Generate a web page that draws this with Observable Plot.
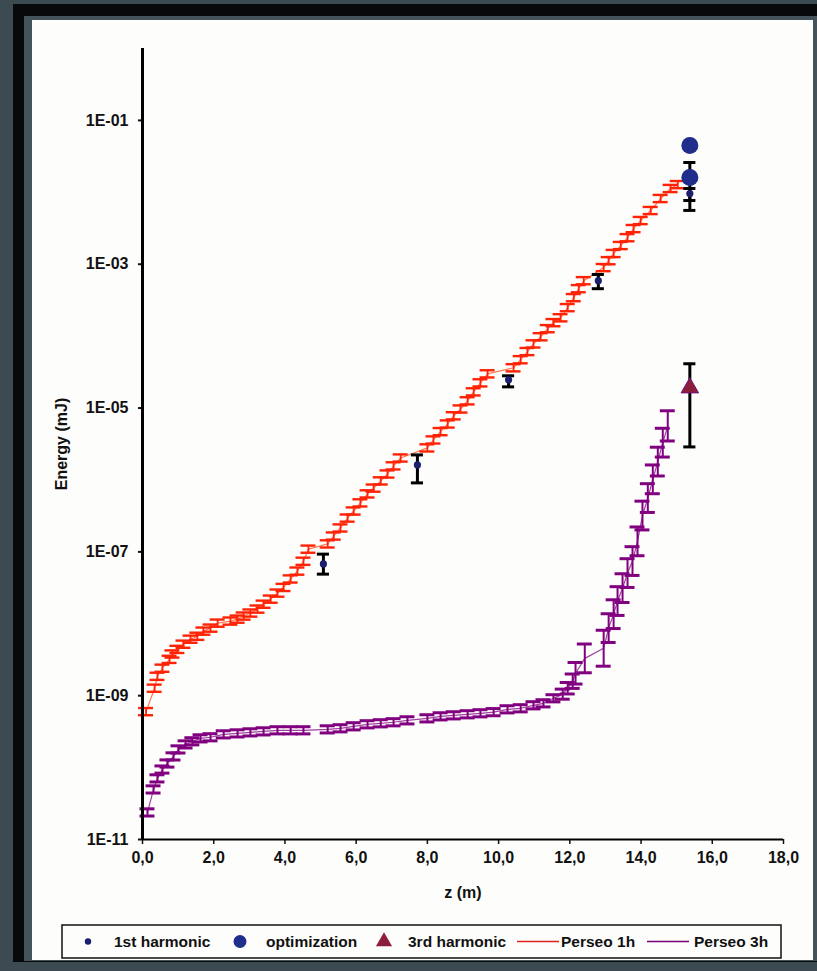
<!DOCTYPE html>
<html>
<head>
<meta charset="utf-8">
<script src="https://cdn.jsdelivr.net/npm/d3@7"></script>
<script src="https://cdn.jsdelivr.net/npm/@observablehq/plot@0.6"></script>
<style>
  html, body { margin: 0; padding: 0; }
  body { width: 817px; height: 971px; background: #3c4a51; position: relative; overflow: hidden;
         font-family: "Liberation Sans", Arial, sans-serif; }
  #frame { position: absolute; left: 13px; top: 4px; width: 804px; height: 958px; background: #07090a; }
  #inner { position: absolute; left: 24px; top: 16px; width: 793px; height: 945px; background: #45535a; }
  #panel { position: absolute; left: 32px; top: 20px; width: 781px; height: 940px; background: #fdfdfb; }
  #chart { position: absolute; left: 0; top: 0; }
  #legend { position: absolute; left: -32px; top: 890px; }
</style>
</head>
<body>
<div id="frame"></div>
<div id="inner"></div>
<div id="panel"><div id="chart"></div><div id="legend"></div></div>
<script>
// ---------- data ----------
const xTicks = [0, 2, 4, 6, 8, 10, 12, 14, 16, 18];
const yTicks = [1e-1, 1e-3, 1e-5, 1e-7, 1e-9, 1e-11];
const legendLabels = ["1st harmonic", "optimization", "3rd harmonic", "Perseo 1h", "Perseo 3h"];

// Perseo 1h simulation (z in m, energy in mJ)
const perseo1hZ = [0.10,0.34,0.42,0.56,0.76,0.84,0.98,1.15,1.35,1.54,1.71,1.91,2.11,2.47,2.67,2.84,3.03,3.23,3.40,3.60,
  3.79,3.96,4.16,4.35,4.52,4.66,5.20,5.37,5.56,5.76,5.93,6.12,6.32,6.49,6.69,6.88,7.05,7.25,8.00,8.17,
  8.37,8.57,8.74,8.93,9.13,9.30,9.49,9.69,10.42,10.62,10.81,10.98,11.18,11.38,11.54,11.74,11.94,12.11,12.25,12.39,
  12.95,13.09,13.23,13.43,13.62,13.79,13.99,14.27,14.55,14.83,15.03];
const perseo1hE = [6.0e-10,1.27e-9,1.86e-9,2.41e-9,3.2e-9,3.8e-9,4.4e-9,5.2e-9,6.1e-9,6.7e-9,7.9e-9,8.7e-9,1.02e-8,1.09e-8,1.16e-8,1.28e-8,1.41e-8,1.60e-8,1.87e-8,2.2e-8,
  2.67e-8,3.2e-8,4.2e-8,5.4e-8,7.4e-8,1.09e-7,1.29e-7,1.66e-7,2.15e-7,2.95e-7,3.7e-7,4.8e-7,6.4e-7,7.7e-7,9.7e-7,1.21e-6,1.57e-6,2.02e-6,2.79e-6,3.6e-6,
  4.7e-6,6.0e-6,7.8e-6,9.7e-6,1.26e-5,1.68e-5,2.24e-5,2.99e-5,3.63e-5,4.7e-5,6.1e-5,7.8e-5,9.8e-5,1.27e-4,1.54e-4,1.80e-4,2.49e-4,3.43e-4,4.57e-4,5.9e-4,
  8.97e-4,1.12e-3,1.41e-3,1.82e-3,2.34e-3,3.13e-3,4.05e-3,5.58e-3,8.2e-3,1.13e-2,1.28e-2];
const perseo1hErrDex = 0.05; // half-height of the error bars, in decades

// Perseo 3h simulation
const perseo3hZ = [0.14,0.31,0.42,0.56,0.70,0.87,1.01,1.21,1.40,1.63,1.91,2.28,2.67,3.03,3.40,3.79,4.16,4.52,5.20,5.56,
  5.93,6.32,6.69,7.05,7.44,8.00,8.37,8.74,9.13,9.49,9.86,10.25,10.62,10.98,11.26,11.54,11.80,11.94,12.08,12.16,
  12.42,12.95,13.09,13.23,13.34,13.48,13.62,13.76,13.90,14.04,14.19,14.33,14.47,14.61,14.75];
const perseo3hE = [2.38e-11,4.97e-11,7.08e-11,9.4e-11,1.14e-10,1.43e-10,1.79e-10,2.10e-10,2.32e-10,2.55e-10,2.64e-10,2.90e-10,2.99e-10,3.09e-10,3.19e-10,3.30e-10,3.30e-10,3.30e-10,3.40e-10,3.52e-10,
  3.75e-10,4.0e-10,4.13e-10,4.27e-10,4.54e-10,4.84e-10,5.16e-10,5.33e-10,5.51e-10,5.69e-10,5.9e-10,6.46e-10,6.68e-10,7.35e-10,7.83e-10,9.2e-10,1.05e-9,1.27e-9,1.59e-9,2.05e-9,
  3.3e-9,4.57e-9,8.7e-9,1.36e-8,2.07e-8,3.13e-8,5.07e-8,7.45e-8,1.4e-7,3.2e-7,5.6e-7,1.02e-6,1.8e-6,3.3e-6,5.65e-6];
const perseo3hErrDex = [0.05,0.05,0.05,0.05,0.05,0.05,0.05,0.05,0.05,0.05,0.05,0.05,0.05,0.05,0.05,0.05,0.05,0.05,0.05,0.05,
  0.05,0.05,0.05,0.05,0.05,0.05,0.05,0.05,0.05,0.05,0.05,0.05,0.05,0.05,0.05,0.05,0.07,0.08,0.10,0.15,
  0.20,0.25,0.20,0.20,0.20,0.20,0.20,0.20,0.20,0.20,0.20,0.20,0.20,0.20,0.21];

// measurements
const harm1Z  = [5.08, 7.72, 10.28, 12.80, 15.37];
const harm1E  = [6.8e-8, 1.62e-6, 2.47e-5, 5.9e-4, 9.6e-3];
const harm1Lo = [4.9e-8, 9.1e-7, 1.97e-5, 4.57e-4, 5.6e-3];
const harm1Hi = [9.3e-8, 2.23e-6, 2.81e-5, 7.2e-4, 1.13e-2];

const optZ  = [15.37, 15.37];
const optE  = [4.49e-2, 1.61e-2];
const optLo = [null, 7.7e-3];
const optHi = [null, 2.6e-2];

const harm3Z  = [15.37];
const harm3E  = [1.91e-5];
const harm3Lo = [2.88e-6];
const harm3Hi = [4.13e-5];

// ---------- build tables ----------
const p1 = perseo1hZ.map((z, i) => ({z, e: perseo1hE[i], lo: perseo1hE[i] / 10 ** perseo1hErrDex, hi: perseo1hE[i] * 10 ** perseo1hErrDex}));
const p3 = perseo3hZ.map((z, i) => ({z, e: perseo3hE[i], lo: perseo3hE[i] / 10 ** perseo3hErrDex[i], hi: perseo3hE[i] * 10 ** perseo3hErrDex[i]}));
const h1 = harm1Z.map((z, i) => ({z, e: harm1E[i], lo: harm1Lo[i], hi: harm1Hi[i]}));
const op = optZ.map((z, i) => ({z, e: optE[i], lo: optLo[i], hi: optHi[i]}));
const h3 = harm3Z.map((z, i) => ({z, e: harm3E[i], lo: harm3Lo[i], hi: harm3Hi[i]}));
const measured = [...h1, ...op, ...h3].filter(d => d.lo != null);

const fmtE = v => { const e = Math.round(Math.log10(v)); return "1E" + (e < 0 ? "-" : "+") + String(Math.abs(e)).padStart(2, "0"); };
const fmtZ = v => v.toFixed(1).replace(".", ",");

const RED = "#ff2205", RED_LINE = "#ff7a55", PURPLE = "#800080", PURPLE_LINE = "#a040a0";
const CAP = 0.21, CAP_M = 0.17;

function errorBars(data, color, w, capW, cap) {
  return [
    Plot.ruleX(data, {x: "z", y1: "lo", y2: "hi", stroke: color, strokeWidth: w}),
    Plot.ruleY(data, {y: "lo", x1: d => d.z - cap, x2: d => d.z + cap, stroke: color, strokeWidth: capW}),
    Plot.ruleY(data, {y: "hi", x1: d => d.z - cap, x2: d => d.z + cap, stroke: color, strokeWidth: capW})
  ];
}

const chart = Plot.plot({
  width: 781, height: 890,
  marginLeft: 110, marginRight: 30, marginTop: 28, marginBottom: 71,
  style: {fontFamily: "'Liberation Sans', Arial, sans-serif", fontSize: "16px", fontWeight: "bold", color: "#111", background: "transparent", overflow: "visible"},
  x: {domain: [0, 18]},
  y: {type: "log", domain: [1e-11, 1]},
  marks: [
    Plot.axisX({ticks: xTicks, tickFormat: fmtZ, tickSize: 5, tickPadding: 7, strokeWidth: 1.5, fontSize: 16,
      label: "z (m)", labelAnchor: "center", labelOffset: 58, labelArrow: "none"}),
    Plot.axisY({ticks: yTicks, tickFormat: fmtE, tickSize: 4, tickPadding: 10, strokeWidth: 2, fontSize: 16,
      label: "Energy (mJ)", labelAnchor: "center", labelOffset: 87, labelArrow: "none"}),
    Plot.line(p3, {x: "z", y: "e", stroke: PURPLE_LINE, strokeWidth: 1.2}),
    ...errorBars(p3, PURPLE, 2, 3, CAP),
    Plot.line(p1, {x: "z", y: "e", stroke: RED_LINE, strokeWidth: 1.2}),
    ...errorBars(p1, RED, 1.8, 2.4, CAP),
    ...errorBars(measured, "#000", 3, 3, CAP_M),
    Plot.dot(h1, {x: "z", y: "e", r: 3.6, fill: "#1c1f6e"}),
    Plot.dot(op, {x: "z", y: "e", r: 8.5, fill: "#1f2d8c"}),
    Plot.dot(h3, {x: "z", y: "e", r: 6.5, symbol: "triangle", fill: "#8b1d3d", stroke: "#70107a", strokeWidth: 1}),
    Plot.ruleY([1e-11], {stroke: "#000", strokeWidth: 2}),
    Plot.ruleX([0], {stroke: "#000", strokeWidth: 3})
  ]
});
document.getElementById("chart").appendChild(chart);

// ---------- legend ----------
const legendItems = [
  {label: legendLabels[0], kind: "dot", r: 3.2, color: "#1c1f6e", mx: 88, tx: 114},
  {label: legendLabels[1], kind: "dot", r: 6.5, color: "#1f2d8c", mx: 240, tx: 266},
  {label: legendLabels[2], kind: "tri", r: 6, color: "#8b1d3d", mx: 384, tx: 408},
  {label: legendLabels[3], kind: "line", color: "#e0221c", mx: 517, tx: 561},
  {label: legendLabels[4], kind: "line", color: "#7a007a", mx: 647, tx: 694}
];
const lg = d3.select("#legend").append("svg").attr("width", 817).attr("height", 50)
  .style("font-family", "'Liberation Sans', Arial, sans-serif").style("font-weight", "bold").style("font-size", "15.5px");
lg.append("rect").attr("x", 62).attr("y", 15).attr("width", 719).attr("height", 33)
  .attr("fill", "none").attr("stroke", "#111").attr("stroke-width", 1.5);
const cy = 31.5;
for (const it of legendItems) {
  if (it.kind === "dot") lg.append("circle").attr("cx", it.mx).attr("cy", cy).attr("r", it.r).attr("fill", it.color);
  else if (it.kind === "tri") lg.append("path").attr("transform", `translate(${it.mx},${cy})`)
    .attr("d", d3.symbol(d3.symbolTriangle, Math.PI * it.r * it.r)()).attr("fill", it.color);
  else lg.append("line").attr("x1", it.mx).attr("x2", it.mx + 42).attr("y1", cy).attr("y2", cy)
    .attr("stroke", it.color).attr("stroke-width", 1.6);
  lg.append("text").attr("x", it.tx).attr("y", cy).attr("dy", "0.36em").attr("fill", "#111").text(it.label);
}
</script>
</body>
</html>
